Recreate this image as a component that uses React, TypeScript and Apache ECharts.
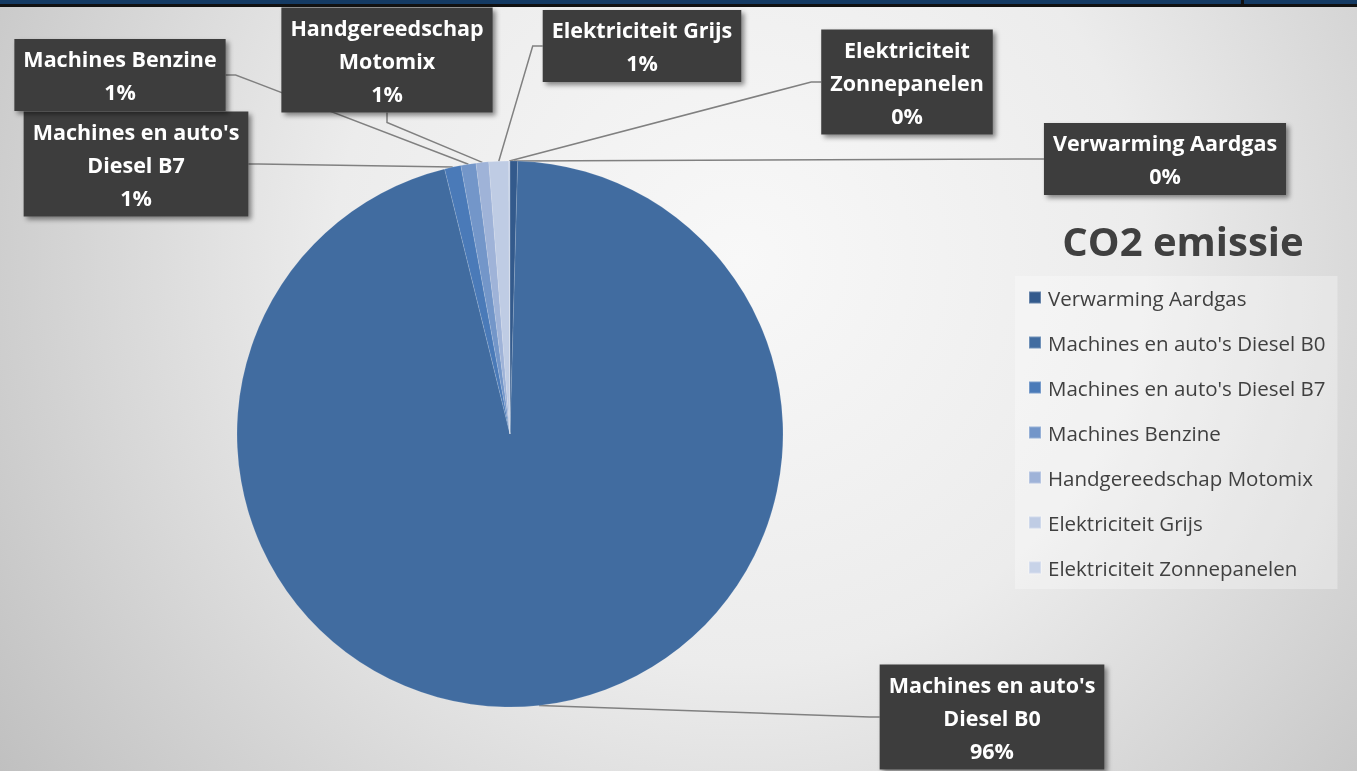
import React, { useEffect, useRef } from "react";
import * as echarts from "echarts";

const CATEGORIES = [
  "Verwarming Aardgas",
  "Machines en auto's Diesel B0",
  "Machines en auto's Diesel B7",
  "Machines Benzine",
  "Handgereedschap Motomix",
  "Elektriciteit Grijs",
  "Elektriciteit Zonnepanelen",
];
const VALUES = [0.45, 95.7, 0.97, 0.89, 0.75, 1.17, 0.07];
const LABEL_NAMES = [
  "Verwarming Aardgas",
  "Machines en auto's\nDiesel B0",
  "Machines en auto's\nDiesel B7",
  "Machines Benzine",
  "Handgereedschap\nMotomix",
  "Elektriciteit Grijs",
  "Elektriciteit\nZonnepanelen",
];
const COLORS = ["#335a8c", "#416ca0", "#4a7ab8", "#7396c9", "#9fb3d8", "#bfcce4", "#c8d3e8"];
const LABEL_CENTERS: [number, number][] = [
  [1165, 159],
  [992, 717],
  [136, 164],
  [120, 75],
  [387, 60],
  [642, 46],
  [907, 82],
];
const TITLE = "CO2 emissie";
const FONT = '"Open Sans", Lato, sans-serif';

export default function App() {
  const ref = useRef<HTMLDivElement>(null);
  useEffect(() => {
    if (!ref.current) return;
    const chart = echarts.init(ref.current, undefined, { renderer: "svg" });
    const total = VALUES.reduce((a, b) => a + b, 0);
    chart.setOption({
      animation: false,
      title: {
        text: TITLE,
        left: 1178,
        top: 215,
        textAlign: "center",
        textStyle: { fontFamily: FONT, fontSize: 40, fontWeight: "bold", color: "#404040" },
      },
      legend: {
        orient: "vertical",
        left: 1015,
        top: 276,
        itemWidth: 12,
        itemHeight: 12,
        itemGap: 24,
        icon: "rect",
        padding: [11, 12, 11, 13],
        backgroundColor: "rgba(255,255,255,0.3)",
        data: CATEGORIES,
        textStyle: { fontFamily: FONT, fontSize: 20.5, color: "#404040", lineHeight: 20, padding: [0, 0, 0, 2] },
      },
      graphic: [
        {
          type: "rect",
          z: -100,
          silent: true,
          shape: { x: 0, y: 7, width: 1357, height: 764 },
          style: {
            fill: new echarts.graphic.RadialGradient(
              740,
              260,
              900,
              [
                { offset: 0, color: "#f8f8f8" },
                { offset: 0.45, color: "#ececec" },
                { offset: 1, color: "#c0c0c0" },
              ],
              true
            ),
          },
        },
        { type: "rect", silent: true, shape: { x: 0, y: 0, width: 1357, height: 4 }, style: { fill: "#143a63" } },
        { type: "rect", silent: true, shape: { x: 0, y: 4, width: 1357, height: 3 }, style: { fill: "#111111" } },
        { type: "rect", silent: true, shape: { x: 1241, y: 0, width: 3, height: 4 }, style: { fill: "#111111" } },
      ],
      series: [
        {
          type: "pie",
          center: [510, 434],
          radius: 273,
          startAngle: 90,
          clockwise: true,
          avoidLabelOverlap: false,
          data: CATEGORIES.map((name, i) => ({ name, value: VALUES[i], itemStyle: { color: COLORS[i] } })),
          itemStyle: { borderColor: "rgba(255,255,255,0.25)", borderWidth: 0.5 },
          label: {
            show: true,
            position: "outside",
            formatter: (p: any) => `${LABEL_NAMES[p.dataIndex]}\n${Math.round((p.value / total) * 100)}%`,
            color: "#ffffff",
            fontFamily: FONT,
            fontWeight: "bold",
            fontSize: 21.5,
            lineHeight: 33,
            align: "center",
            backgroundColor: "#3c3c3c",
            padding: [3, 9],
            shadowColor: "rgba(0,0,0,0.45)",
            shadowBlur: 5,
            shadowOffsetX: 3,
            shadowOffsetY: 3,
          },
          labelLine: {
            show: true,
            length: 10,
            length2: 10,
            lineStyle: { color: "#808080", width: 1.5 },
          },
          labelLayout: (params: any) => {
            const c = LABEL_CENTERS[params.dataIndex];
            return { x: c[0], y: c[1], align: "center", verticalAlign: "middle", hideOverlap: false };
          },
        },
      ],
    });
    return () => chart.dispose();
  }, []);
  return (
    <div
      ref={ref}
      style={{ position: "fixed", left: 0, top: 0, width: 1357, height: 771 }}
    />
  );
}
